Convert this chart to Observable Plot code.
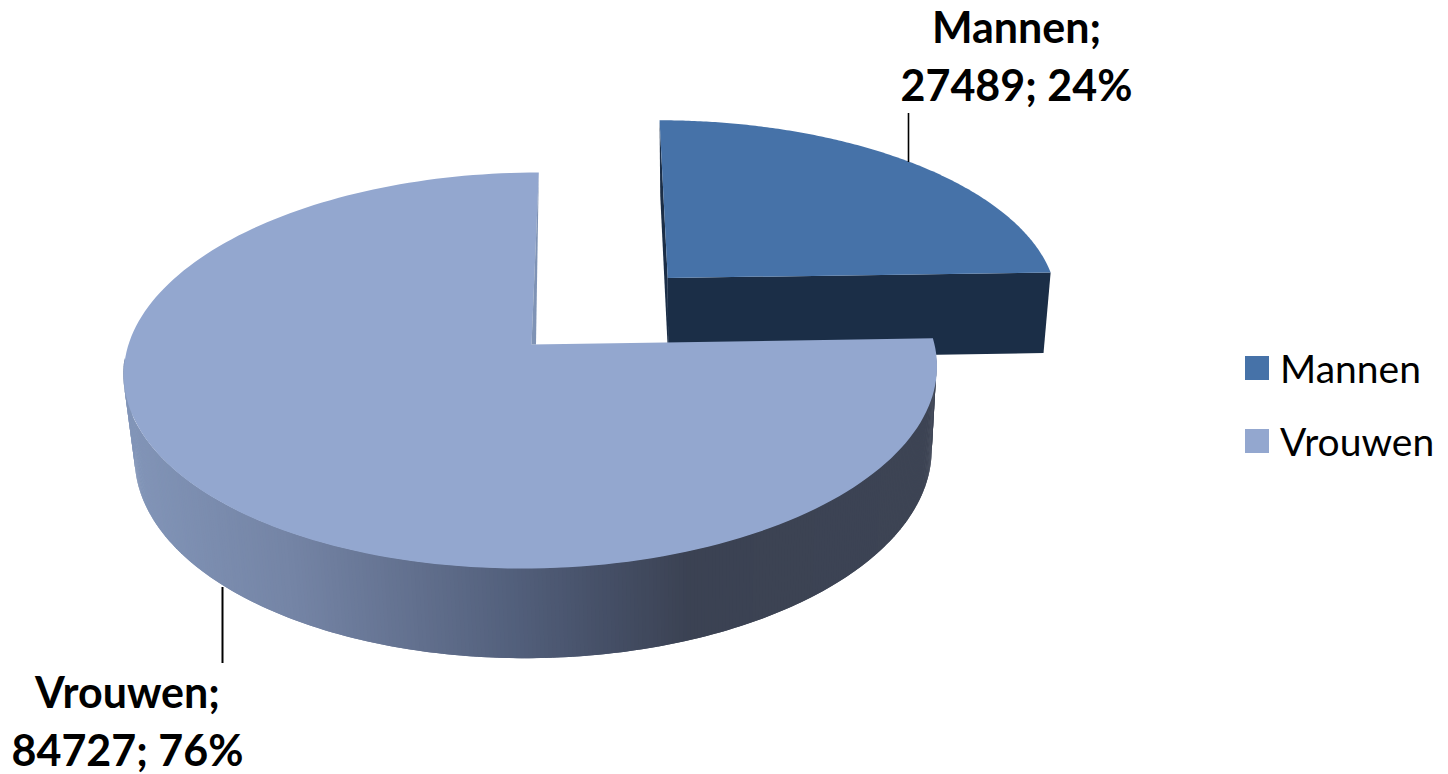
<!DOCTYPE html>
<html>
<head>
<meta charset="utf-8">
<script src="https://cdn.jsdelivr.net/npm/d3@7"></script>
<script src="https://cdn.jsdelivr.net/npm/@observablehq/plot@0.6"></script>
<style>
html,body{margin:0;padding:0;background:#fff;overflow:hidden}
#wrap{position:relative;width:1448px;height:774px}
#wrap svg{display:block}
.legend{position:absolute;left:1245px;top:0;font:39px Lato,sans-serif;color:#000}
.legend div{position:absolute;white-space:nowrap;display:flex;align-items:center;height:44px}
.legend i{display:inline-block;width:24px;height:24px;margin-right:11px}
</style>
</head>
<body>
<div id="wrap"></div>
<script>
// Data
const categories = ["Mannen", "Vrouwen"];
const values = [27489, 84727];
const percents = [24, 76];
const topColors = ["#4672a8", "#93a7cf"];

// Layout of the perspective drawing
const W = 1448, H = 774;
const vx = 594, cy = 344, ku = 403, kv = 194.6, persp = 0.1313;
const lowerCy = 427, lowerKx = 0.98, lowerKy = 1.032, lowerDx = 2;
const u0 = (531 - vx) / ku, explodeR = 0.498;
const deg = Math.PI / 180;

const project = (u, v, low) => {
  const w = 1 - persp * v;
  return low
    ? {x: vx + lowerDx + lowerKx * ku * u / w, y: lowerCy + lowerKy * kv * v / w}
    : {x: vx + ku * u / w, y: cy + kv * v / w};
};

const arcs = d3.pie().sort(null)(values);
const slices = arcs.map((a, i) => {
  const mid = (a.startAngle + a.endAngle) / 2;
  const ex = i === 0 ? explodeR : 0;
  return {a, cu: u0 + ex * Math.sin(mid), cv: -ex * Math.cos(mid)};
});
const rim = (s, t, low) => project(s.cu + Math.sin(t), s.cv - Math.cos(t), low);
const apex = (s, low) => project(s.cu, s.cv, low);
const angles = (a, b, n = 180) => d3.range(0, n + 1).map(k => a + (b - a) * k / n);

const [men, women] = slices;

const topFace = s => [apex(s, false), ...angles(s.a.startAngle, s.a.endAngle).map(t => rim(s, t, false))];
const cutFace = (s, t) => [apex(s, false), rim(s, t, false), rim(s, t, true), apex(s, true)];

// Shaded outer wall of the big slice: only its front part can be seen
const shade = d3.scaleLinear()
  .domain([125, 300, 420, 520, 610, 690, 940])
  .range(["#8396b9", "#7484a5", "#62708e", "#525f7b", "#454f66", "#3b4253", "#3d4454"]);
const wallAngles = angles(94 * deg, 266 * deg, 344);
const wall = wallAngles.slice(0, -2).flatMap((t0, i) => {
  const t2 = wallAngles[i + 2]; // each strip overlaps the next one
  const a0 = rim(women, t0, false), b0 = rim(women, t0, true);
  const a1 = rim(women, t2, false), b1 = rim(women, t2, true);
  const color = shade(b0.x);
  return [
    {x1: a0.x, y1: a0.y, x2: b0.x, y2: b0.y, i, color},
    {x1: a1.x, y1: a1.y, x2: b1.x, y2: b1.y, i, color}
  ];
});

// Thin sliver of the cut face beside the vertical edge of the big slice
const bevelTop = rim(women, 0, false);
const bevelA = apex(women, false);
const bevel = [bevelTop, bevelA, {x: bevelA.x + 4.5, y: bevelA.y}];

const leaders = [
  {x: 908, y1: 113, y2: 162, sw: 1.6},
  {x: 222, y1: 587, y2: 663, sw: 2}
];
const labels = [
  {x: 1016, y: 53, text: `${categories[0]};\n${values[0]}; ${percents[0]}%`},
  {x: 127, y: 718, text: `${categories[1]};\n${values[1]}; ${percents[1]}%`}
];

const poly = (pts, fill) => Plot.line(pts, {x: "x", y: "y", fill, stroke: "none"});

const chart = Plot.plot({
  width: W, height: H,
  marginTop: 0, marginRight: 0, marginBottom: 0, marginLeft: 0,
  x: {axis: null, domain: [0, W], range: [0, W]},
  y: {axis: null, domain: [0, H], range: [0, H]},
  style: {background: "#fff"},
  marks: [
    poly(cutFace(men, men.a.startAngle), "#1b2e47"),
    poly(cutFace(men, men.a.endAngle), "#1b2e47"),
    poly(topFace(men), topColors[0]),
    Plot.area(wall, {x1: "x1", y1: "y1", x2: "x2", y2: "y2", z: "i", fill: "color"}),
    poly(topFace(women), topColors[1]),
    poly(bevel, "#7f93b5"),
    Plot.ruleX(leaders, {x: "x", y1: "y1", y2: "y2", stroke: "#000", strokeWidth: "sw"}),
    Plot.text(labels, {
      x: "x", y: "y", text: "text", lineHeight: 1.35, fontSize: 43,
      fontFamily: "Lato", fontWeight: 700, fill: "#000", lineAnchor: "middle"
    })
  ]
});
const wrap = document.getElementById("wrap");
wrap.appendChild(chart);

// Legend
const legend = document.createElement("div");
legend.className = "legend";
const legendTops = [346, 419];
categories.forEach((c, i) => {
  const row = document.createElement("div");
  row.style.top = legendTops[i] + "px";
  const sw = document.createElement("i");
  sw.style.background = topColors[i];
  row.appendChild(sw);
  row.appendChild(document.createTextNode(c));
  legend.appendChild(row);
});
wrap.appendChild(legend);
</script>
</body>
</html>
